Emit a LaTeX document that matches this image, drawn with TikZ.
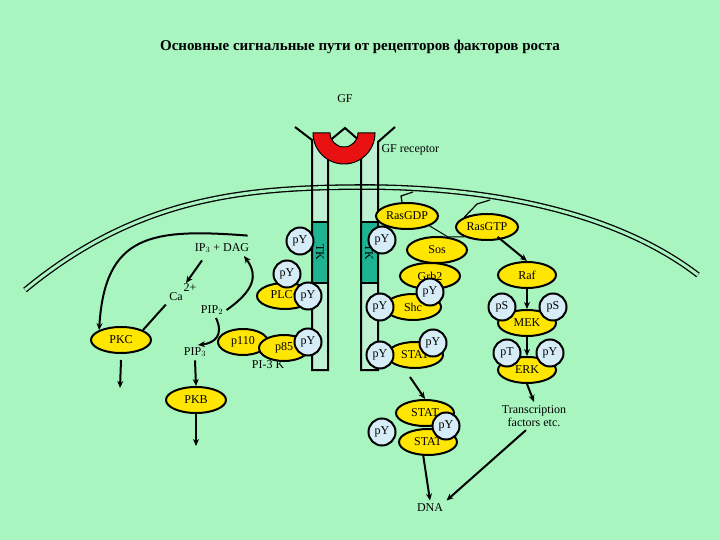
\documentclass[tikz,border=0pt]{standalone}
\usepackage{fontspec}
\setmainfont{Liberation Serif}
\usetikzlibrary{arrows.meta,shapes.geometric}
\definecolor{bg}{RGB}{168,245,192}
\definecolor{box}{RGB}{190,240,210}
\definecolor{tk}{RGB}{30,180,145}
\definecolor{yel}{RGB}{255,230,0}
\definecolor{pyc}{RGB}{214,236,246}
\definecolor{gfred}{RGB}{232,16,16}
\begin{document}
\begin{tikzpicture}[x=1pt,y=-1pt,
  txt/.style={font=\fontsize{12}{13}\selectfont},
  prot/.style={ellipse,draw=black,line width=2pt,fill=yel,inner sep=0pt,minimum width=#1,minimum height=26,font=\fontsize{12}{13}\selectfont},
  prot/.default=58,
  py/.style={circle,draw=black,line width=2pt,fill=pyc,inner sep=0pt,minimum size=27,font=\fontsize{12}{13}\selectfont},
  ar/.style={line width=2pt,-{Stealth[length=7pt,width=6pt]}},
  ln/.style={line width=2pt}]
\fill[bg] (0,0) rectangle (720,540);
\useasboundingbox (0,0) rectangle (720,540);
\node[font=\fontsize{15}{17}\selectfont\bfseries] (title) at (360,47) {Основные сигнальные пути от рецепторов факторов роста};
% receptors
\fill[box] (312,142) rectangle (328,370);
\fill[box] (361,142) rectangle (378,370);
% membrane
\draw[line width=1.3pt,double=bg,double distance=3pt] (25,290) .. controls (140,195) and (250,187) .. (370,187) .. controls (500,188) and (620,215) .. (698,275);
\fill[tk,draw=black,line width=1.5pt] (312,222) rectangle (328,283);
\fill[tk,draw=black,line width=1.5pt] (361,222) rectangle (378,283);
\draw[ln] (295,127) -- (312,140) -- (312,370) -- (328,370) -- (328,142) -- (345,128) -- (361,142) -- (361,370) -- (378,370) -- (378,142) -- (395,127);
\node[txt,rotate=-90] (tk1) at (320,252) {TK};
\node[txt,rotate=-90] (tk2) at (369,252) {TK};
% GF
\fill[gfred,draw=black,line width=1pt] (313,133) arc (180:0:31) -- (358,133) arc (0:180:14) -- cycle;
\node[txt] (gf) at (345,99) {GF};
\node[txt,anchor=west] (gfr) at (378,150) {GF receptor};
% left side
\node[py] (py1) at (300,241) {pY};
\node[prot=56] (plc) at (285,296) {PLC$\gamma$\hspace{8pt}};
\node[py] (py2) at (287,274) {pY};
\node[py] (py3) at (308,296) {pY};
\node[prot=50] (p110) at (243,342) {p110};
\node[prot=50] (p85) at (284,348) {p85\hspace{6pt}};
\node[py] (py4) at (308,342) {pY};
\node[txt] (pi3k) at (268,365) {PI-3 K};
\node[txt] (ipdag) at (222,248) {IP$_3$ + DAG};
\node[txt] (ca) at (176,297) {Ca};
\node[txt] (ca2) at (190,288) {2+};
\node[txt] (pip2) at (212,310) {PIP$_2$};
\node[txt] (pip3) at (195,352) {PIP$_3$};
\node[prot=60] (pkc) at (121,340) {PKC};
\node[prot=60] (pkb) at (196,400) {PKB};
\coordinate (pkcend) at (120,388);
\coordinate (pkbend) at (196,446);
\draw[ar] (ipdag.north east) ++(-5,-4) .. controls (150,228) and (105,235) .. (pkc.north west);
\draw[ar] (ipdag.south) ++(-20,4) -- (186,283);
\draw[ln] (ca.south west) -- (pkc.north east);
\draw[ar] (pip2.east) .. controls (255,290) and (258,275) .. (244,256);
\draw[ar] (216,318) .. controls (224,335) and (215,343) .. (198,345);
\draw[ar] (pip3.south) -- (pkb.north);
\draw[ar] (pkb.south) -- (pkbend);
\draw[ar] (pkc.south) ++(0,6) -- (pkcend);
% right side
\node[prot=62] (rasgdp) at (407,216) {RasGDP};
\node[prot=62] (rasgtp) at (487,227) {RasGTP};
\node[py] (py5) at (382,240) {pY};
\node[prot=60] (sos) at (437,250) {Sos};
\node[prot=60] (grb2) at (430,276) {Grb2};
\node[prot=56] (shc) at (413,307) {Shc};
\node[py] (py6) at (380,307) {pY};
\node[py] (py7) at (430,292) {pY};
\node[prot=56] (stat) at (415,355) {STAT};
\node[py] (py8) at (380,355) {pY};
\node[py] (py9) at (433,343) {pY};
\coordinate (v) at (448,237);
\draw[line width=1pt] (rasgdp.south east) -- (v) -- (rasgtp.south west);
\draw[line width=1.2pt] (rasgdp.north) ++(-5,0) -- (401,196) -- (413,192);
\draw[line width=1.2pt] (rasgtp.north west) -- (477,204) -- (490,200);
\node[prot=58] (raf) at (527,275) {Raf};
\node[prot=58] (mek) at (527,323) {MEK};
\node[py] (ps1) at (502,307) {pS};
\node[py] (ps2) at (553,307) {pS};
\node[prot=58] (erk) at (527,370) {ERK};
\node[py] (pt) at (507,353) {pT};
\node[py] (py10) at (550,353) {pY};
\node[txt,align=center] (tf) at (534,416) {Transcription\\factors etc.};
\draw[ar] (rasgtp.south east) ++(-12,0) -- (raf.north);
\draw[ar] (raf.south) -- (mek.north);
\draw[ar] (mek.south) -- (erk.north);
\draw[ar] (erk.south) -- (tf.north);
\node[prot=58] (stat1) at (425,413) {STAT};
\node[prot=58] (stat2) at (428,442) {STAT};
\node[py] (py11) at (382,432) {pY};
\node[py] (py12) at (446,426) {pY};
\node[txt] (dna) at (430,508) {DNA};
\draw[ar] (stat.south) ++(-5,8) -- (stat1.north);
\draw[ar] (stat2.south) ++(-5,-2) -- (dna.north);
\draw[ar] (tf.south) ++(-8,0) -- (dna.north east);
\end{tikzpicture}
\end{document}
